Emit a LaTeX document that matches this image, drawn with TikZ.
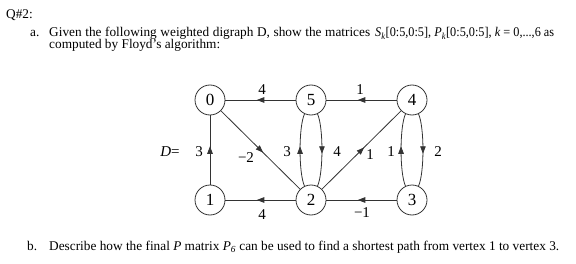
\documentclass[tikz,border=0pt]{standalone}
\usepackage{fontspec}
\setmainfont{Liberation Serif}
\usetikzlibrary{arrows.meta,decorations.markings}
\begin{document}
\begin{tikzpicture}[x=1pt,y=1pt,
  vtx/.style={circle,draw=black!80,line width=0.8pt,minimum size=30pt,inner sep=0pt,font=\fontsize{17}{17}\selectfont},
  lbl/.style={font=\fontsize{15}{15}\selectfont,inner sep=0pt},
  txt/.style={anchor=base west,inner sep=0pt,font=\fontsize{13.3}{13.3}\selectfont},
  edge/.style={draw=black!80,line width=0.8pt,postaction={decorate},
    decoration={markings,mark=at position 0.5 with {\arrow[xshift=3.75pt]{Triangle[length=7.5pt,width=5.5pt]}}}}
]
\useasboundingbox (0,0) rectangle (576,263);
% text
\node[txt] (q) at (6,244) {Q\#2:};
\node[txt] (a) at (30,226) {a.};
\node[txt] (at) at (49,226) {\makebox[321pt][s]{Given the following weighted digraph D, show the matrices}};
\node[txt] (at2) at (375,226) {\scalebox{0.92}[1]{\textit{S}\textsubscript{\textit{k}}[0:5,0:5], \textit{P}\textsubscript{\textit{k}}[0:5,0:5], \textit{k} = 0,...,6 as}};
\node[txt] (a2) at (49,214) {computed by Floyd’s algorithm:};
\node[txt] (b) at (27,13) {b.};
\node[txt] (bt) at (49,13) {Describe how the final \textit{P} matrix \textit{P}\textsubscript{\textit{6}} can be used to find a shortest path from vertex 1 to vertex 3.};
% vertices
\node[vtx] (v0) at (210,163) {0};
\node[vtx] (v5) at (311,163) {5};
\node[vtx] (v4) at (412,163) {4};
\node[vtx] (v1) at (210,63) {1};
\node[vtx] (v2) at (311,63) {2};
\node[vtx] (v3) at (412,63) {3};
% edges
\path[edge] (v5) -- (v0);
\path[edge] (v4) -- (v5);
\path[edge] (v0) -- (v2);
\path[edge] (v1) -- (v0);
\path[edge] (v2) -- (v1);
\path[edge] (v3) -- (v2);
\path[edge] (v2) -- (v4);
\path[edge] (v2) to[out=115,in=-115,looseness=0.5] (v5);
\path[edge] (v5) to[out=-65,in=65,looseness=0.5] (v2);
\path[edge] (v3) to[out=115,in=-115,looseness=0.5] (v4);
\path[edge] (v4) to[out=-65,in=65,looseness=0.5] (v3);
% labels
\node[lbl] (l50) at (262,173) {4};
\node[lbl] (l45) at (360,173) {1};
\node[lbl] (l02) at (246,105) {−2};
\node[lbl] (l10) at (199,111) {3};
\node[lbl] (dd) at (170,111) {\textit{D}=};
\node[lbl] (l25) at (287,111) {3};
\node[lbl] (l52) at (337,111) {4};
\node[lbl] (l24) at (370,108) {1};
\node[lbl] (l34) at (391,111) {1};
\node[lbl] (l43) at (438,111) {2};
\node[lbl] (l21) at (262,48) {4};
\node[lbl] (l32) at (362,50) {−1};
\end{tikzpicture}
\end{document}
